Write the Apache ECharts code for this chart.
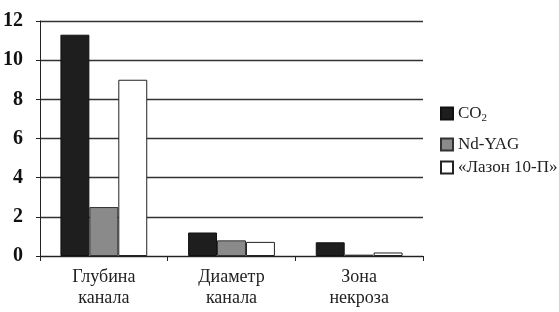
<!DOCTYPE html>
<html><head><meta charset="utf-8">
<script src="https://cdn.jsdelivr.net/npm/echarts@6/dist/echarts.min.js"></script>
<style>html,body{margin:0;padding:0;background:#fff}#c{width:559px;height:312px}</style>
</head><body><div id="c"></div>
<script>
const categories = ['Глубина\nканала', 'Диаметр\nканала', 'Зона\nнекроза'];
const seriesNames = ['CO2', 'Nd-YAG', '«Лазон 10-П»'];
const co2 = [11.3, 1.2, 0.7];
const ndyag = [2.5, 0.8, 0.07];
const lazon = [9.0, 0.72, 0.18];
const yTicks = [0, 2, 4, 6, 8, 10, 12];

const serif = 'Liberation Serif';
const chart = echarts.init(document.getElementById('c'), null, {renderer: 'canvas'});
function legendAt(name, top) {
  return {
    data: [name], left: 435, top: top, orient: 'vertical',
    itemWidth: 12, itemHeight: 12, itemGap: 0,
    textStyle: {fontFamily: serif, fontSize: 17, color: '#222',
      rich: {s: {fontFamily: serif, fontSize: 11, color: '#222', verticalAlign: 'bottom', padding: [9, 0, 0, 0]}}},
    formatter: n => n === 'CO2' ? 'CO{s|2}' : n,
    icon: 'rect'
  };
}
chart.setOption({
  animation: false,
  backgroundColor: '#fff',
  grid: {left: 39, right: 136, top: 21, bottom: 56},
  legend: [legendAt('CO2', 100), legendAt('Nd-YAG', 131), legendAt('«Лазон 10-П»', 154)],
  xAxis: {
    type: 'category', data: categories,
    axisLine: {lineStyle: {color: '#222', width: 1}},
    axisTick: {show: true, length: 5, lineStyle: {color: '#222'}},
    axisLabel: {fontFamily: serif, fontSize: 18, color: '#222', lineHeight: 21, margin: 11}
  },
  yAxis: {
    type: 'value', min: 0, max: 12, interval: 2,
    axisLine: {show: true, lineStyle: {color: '#222', width: 1}},
    axisTick: {show: true, length: 4, lineStyle: {color: '#222'}},
    splitLine: {lineStyle: {color: '#333', width: 1.3}},
    axisLabel: {fontFamily: serif, fontSize: 20, fontWeight: 'bold', color: '#111', margin: 17,
      formatter: v => yTicks.includes(v) ? String(v) : ''}
  },
  series: [
    {name: seriesNames[0], type: 'bar', data: co2, barGap: '0%', barCategoryGap: '32%',
      itemStyle: {color: '#1e1e1e', borderColor: '#111', borderWidth: 1}},
    {name: seriesNames[1], type: 'bar', data: ndyag,
      itemStyle: {color: '#8a8a8a', borderColor: '#333', borderWidth: 1}},
    {name: seriesNames[2], type: 'bar', data: lazon,
      itemStyle: {color: '#ffffff', borderColor: '#222', borderWidth: 1}}
  ]
});
</script></body></html>
